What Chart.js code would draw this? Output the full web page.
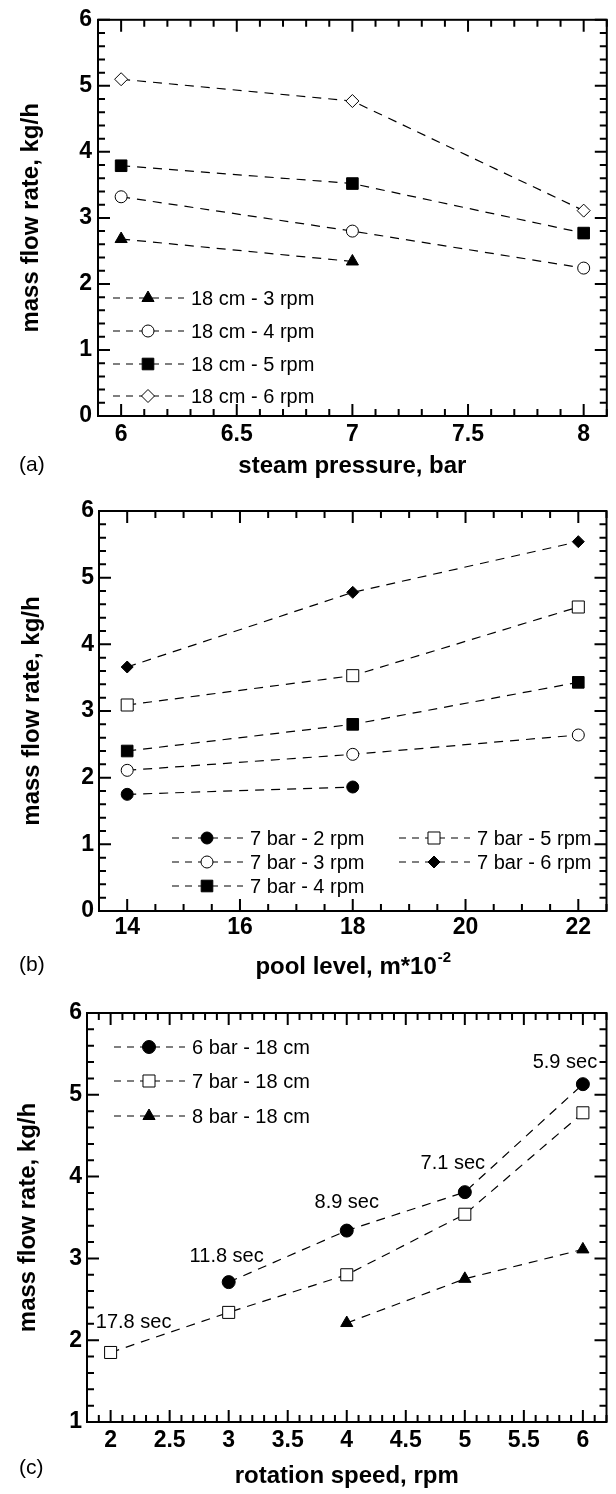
<!DOCTYPE html>
<html>
<head>
<meta charset="utf-8">
<script src="https://cdn.jsdelivr.net/npm/chart.js@4.4.0/dist/chart.umd.min.js"></script>
<style>
  body { margin: 0; background: #fff; width: 616px; height: 1494px; overflow: hidden; }
  canvas { position: absolute; left: 0; }
</style>
</head>
<body>
<canvas id="chartA" width="616" height="490" style="top:0px"></canvas>
<canvas id="chartB" width="616" height="495" style="top:490px"></canvas>
<canvas id="chartC" width="616" height="509" style="top:985px"></canvas>
<script>
// (a) mass flow rate vs steam pressure, pool level 18 cm
var pressure = [6, 7, 8];
var a3rpm = [2.68, 2.34];
var a4rpm = [3.32, 2.80, 2.24];
var a5rpm = [3.79, 3.52, 2.77];
var a6rpm = [5.10, 4.77, 3.11];

// (b) mass flow rate vs pool level, 7 bar
var poolLevel = [14, 18, 22];
var b2rpm = [1.75, 1.86];
var b3rpm = [2.11, 2.35, 2.64];
var b4rpm = [2.40, 2.80, 3.43];
var b5rpm = [3.09, 3.53, 4.56];
var b6rpm = [3.66, 4.78, 5.54];

// (c) mass flow rate vs rotation speed, 18 cm
var speed6bar = [3, 4, 5, 6];
var c6bar = [2.71, 3.34, 3.81, 5.13];
var speed7bar = [2, 3, 4, 5, 6];
var c7bar = [1.85, 2.34, 2.80, 3.54, 4.78];
var speed8bar = [4, 5, 6];
var c8bar = [2.21, 2.75, 3.11];

// residence times written above the points in (c)
var secRpm = [2, 3, 4, 5, 6];
var secTime = ['17.8 sec', '11.8 sec', '8.9 sec', '7.1 sec', '5.9 sec'];
var secShift = [[23, -30], [-2, -26], [0, -28], [-12, -29], [-18, -22]];

var FONT = '"Liberation Sans", Arial, Helvetica, sans-serif';
Chart.defaults.font.family = FONT;
Chart.defaults.color = '#000';

function series(label, xs, ys, style, radius, filled) {
  return {
    label: label,
    data: ys.map(function (y, i) { return { x: xs[i], y: y }; }),
    showLine: true,
    borderColor: '#000',
    borderWidth: 1.2,
    borderDash: [9, 7],
    pointStyle: style,
    pointRadius: radius,
    pointHoverRadius: radius,
    pointBorderColor: '#000',
    pointBorderWidth: 1,
    pointBackgroundColor: filled ? '#000' : '#fff'
  };
}

// legend rows: dataset index, marker centre (canvas px)
var keyRows = {
  chartA: [{ ds: 0, x: 148, y: 298 }, { ds: 1, x: 148, y: 331 }, { ds: 2, x: 148, y: 364 }, { ds: 3, x: 148, y: 396 }],
  chartB: [{ ds: 0, x: 207, y: 348 }, { ds: 1, x: 207, y: 372 }, { ds: 2, x: 207, y: 396 },
           { ds: 3, x: 434, y: 348 }, { ds: 4, x: 434, y: 372 }],
  chartC: [{ ds: 0, x: 149, y: 62 }, { ds: 1, x: 149, y: 96 }, { ds: 2, x: 149, y: 131 }]
};
var tags = { chartA: ['(a)', 465], chartB: ['(b)', 475], chartC: ['(c)', 483] };
var ticksInfo = {
  chartA: { xMinor: 0.1, xMajor: 0.5, yMinor: 0.2, yMajor: 1 },
  chartB: { xMinor: 0.5, xMajor: 2, yMinor: 0.2, yMajor: 1 },
  chartC: { xMinor: 0.1, xMajor: 0.5, yMinor: 0.2, yMajor: 1 }
};

var framePlugin = {
  id: 'frame',
  afterDraw: function (chart) {
    var t = ticksInfo[chart.canvas.id];
    var ctx = chart.ctx, a = chart.chartArea;
    ctx.save();
    ctx.strokeStyle = '#000';
    ctx.lineWidth = 2;
    ctx.strokeRect(a.left, a.top, a.right - a.left, a.bottom - a.top);
    function marks(scale, minor, major, horiz) {
      var n = Math.round((scale.max - scale.min) / minor);
      for (var i = 0; i <= n; i++) {
        var v = scale.min + i * minor;
        var big = Math.abs(v / major - Math.round(v / major)) < 1e-6;
        var len = big ? 12 : 7;
        var p = scale.getPixelForValue(v);
        ctx.beginPath();
        if (horiz) {
          ctx.moveTo(p, a.bottom); ctx.lineTo(p, a.bottom - len);
          ctx.moveTo(p, a.top); ctx.lineTo(p, a.top + len);
        } else {
          ctx.moveTo(a.left, p); ctx.lineTo(a.left + len, p);
          ctx.moveTo(a.right, p); ctx.lineTo(a.right - len, p);
        }
        ctx.stroke();
      }
    }
    marks(chart.scales.x, t.xMinor, t.xMajor, true);
    marks(chart.scales.y, t.yMinor, t.yMajor, false);

    // legend
    keyRows[chart.canvas.id].forEach(function (r) {
      var ds = chart.data.datasets[r.ds];
      ctx.strokeStyle = '#000';
      ctx.lineWidth = 1.2;
      ctx.setLineDash([7, 6]);
      ctx.beginPath();
      ctx.moveTo(r.x - 35, r.y);
      ctx.lineTo(r.x + 36, r.y);
      ctx.stroke();
      ctx.setLineDash([]);
      ctx.fillStyle = ds.pointBackgroundColor;
      ctx.lineWidth = 1;
      Chart.helpers.drawPoint(ctx, { pointStyle: ds.pointStyle, radius: ds.pointRadius, borderWidth: 1, rotation: 0 }, r.x, r.y);
      ctx.fillStyle = '#000';
      ctx.font = '20px ' + FONT;
      ctx.textAlign = 'left';
      ctx.textBaseline = 'middle';
      ctx.fillText(ds.label, r.x + 43, r.y + 1);
    });

    // panel tag
    var tag = tags[chart.canvas.id];
    ctx.font = '21px ' + FONT;
    ctx.fillText(tag[0], 19, tag[1]);
    ctx.restore();
  }
};

// x title of (b), with a superscript exponent
var poolTitlePlugin = {
  id: 'poolTitle',
  afterDraw: function (chart) {
    var ctx = chart.ctx, a = chart.chartArea;
    var main = 'pool level, m*10', sup = '-2';
    ctx.save();
    ctx.fillStyle = '#000';
    ctx.textBaseline = 'middle';
    ctx.textAlign = 'left';
    ctx.font = 'bold 24px ' + FONT;
    var w1 = ctx.measureText(main).width;
    ctx.font = 'bold 15px ' + FONT;
    var w2 = ctx.measureText(sup).width;
    var x0 = (a.left + a.right) / 2 - (w1 + w2) / 2;
    ctx.font = 'bold 24px ' + FONT;
    ctx.fillText(main, x0, 477);
    ctx.font = 'bold 15px ' + FONT;
    ctx.fillText(sup, x0 + w1 + 1, 468);
    ctx.restore();
  }
};

// residence-time notes in (c), placed above the highest point at each speed
var secPlugin = {
  id: 'secNotes',
  afterDraw: function (chart) {
    var ctx = chart.ctx, xs = chart.scales.x, ys = chart.scales.y;
    ctx.save();
    ctx.fillStyle = '#000';
    ctx.font = '20px ' + FONT;
    ctx.textAlign = 'center';
    ctx.textBaseline = 'middle';
    secRpm.forEach(function (rpm, i) {
      var top = -Infinity;
      chart.data.datasets.forEach(function (ds) {
        ds.data.forEach(function (d) { if (d.x === rpm && d.y > top) top = d.y; });
      });
      ctx.fillText(secTime[i], xs.getPixelForValue(rpm) + secShift[i][0], ys.getPixelForValue(top) + secShift[i][1]);
    });
    ctx.restore();
  }
};

function plainNumber(v) { return String(Number(Number(v).toFixed(2))); }

function options(p) {
  return {
    responsive: false,
    animation: false,
    events: [],
    layout: { padding: { top: p.top, right: p.right, left: 0, bottom: 0 } },
    plugins: { legend: { display: false }, tooltip: { enabled: false } },
    scales: {
      x: {
        type: 'linear', min: p.xMin, max: p.xMax,
        grid: { display: false, drawTicks: false }, border: { display: false },
        ticks: { stepSize: p.xStep, includeBounds: false, padding: p.xPad, autoSkip: false, maxRotation: 0,
                 font: { size: 23, weight: 'bold' }, callback: plainNumber },
        title: { display: !!p.xTitle, text: p.xTitle, font: { size: 24, weight: 'bold' }, padding: { top: 0, bottom: p.xTitlePad } },
        afterFit: function (s) { s.height = p.xHeight; }
      },
      y: {
        type: 'linear', min: p.yMin, max: 6,
        grid: { display: false, drawTicks: false }, border: { display: false },
        ticks: { stepSize: 1, includeBounds: false, padding: p.yPad, font: { size: 23, weight: 'bold' }, callback: plainNumber },
        title: { display: true, text: 'mass flow rate, kg/h', font: { size: 24, weight: 'bold' }, padding: { top: p.yTitlePad, bottom: 0 } },
        afterFit: function (s) { s.width = p.yWidth; }
      }
    }
  };
}

new Chart(document.getElementById('chartA'), {
  type: 'scatter',
  data: {
    datasets: [
      series('18 cm - 3 rpm', pressure, a3rpm, 'triangle', 7, true),
      series('18 cm - 4 rpm', pressure, a4rpm, 'circle', 6, false),
      series('18 cm - 5 rpm', pressure, a5rpm, 'rect', 8.2, true),
      series('18 cm - 6 rpm', pressure, a6rpm, 'rectRot', 6.5, false)
    ]
  },
  options: options({ top: 15, right: 6, xMin: 5.9, xMax: 8.1, xStep: 0.5, xPad: 5, xHeight: 74,
                     xTitle: 'steam pressure, bar', xTitlePad: 9, yMin: 0, yPad: 6, yWidth: 98, yTitlePad: 17 }),
  plugins: [framePlugin]
});

new Chart(document.getElementById('chartB'), {
  type: 'scatter',
  data: {
    datasets: [
      series('7 bar - 2 rpm', poolLevel, b2rpm, 'circle', 6, true),
      series('7 bar - 3 rpm', poolLevel, b3rpm, 'circle', 6, false),
      series('7 bar - 4 rpm', poolLevel, b4rpm, 'rect', 8.2, true),
      series('7 bar - 5 rpm', poolLevel, b5rpm, 'rect', 8.5, false),
      series('7 bar - 6 rpm', poolLevel, b6rpm, 'rectRot', 6, true)
    ]
  },
  options: options({ top: 21, right: 4, xMin: 13.5, xMax: 22.5, xStep: 2, xPad: 3, xHeight: 74,
                     xTitle: '', xTitlePad: 0, yMin: 0, yPad: 5, yWidth: 99, yTitlePad: 18 }),
  plugins: [framePlugin, poolTitlePlugin]
});

new Chart(document.getElementById('chartC'), {
  type: 'scatter',
  data: {
    datasets: [
      series('6 bar - 18 cm', speed6bar, c6bar, 'circle', 6.5, true),
      series('7 bar - 18 cm', speed7bar, c7bar, 'rect', 8.5, false),
      series('8 bar - 18 cm', speed8bar, c8bar, 'triangle', 7, true)
    ]
  },
  options: options({ top: 28, right: 3, xMin: 1.8, xMax: 6.2, xStep: 0.5, xPad: 5, xHeight: 72,
                     xTitle: 'rotation speed, rpm', xTitlePad: 3, yMin: 1, yPad: 5, yWidth: 87, yTitlePad: 14 }),
  plugins: [framePlugin, secPlugin]
});
</script>
</body>
</html>
